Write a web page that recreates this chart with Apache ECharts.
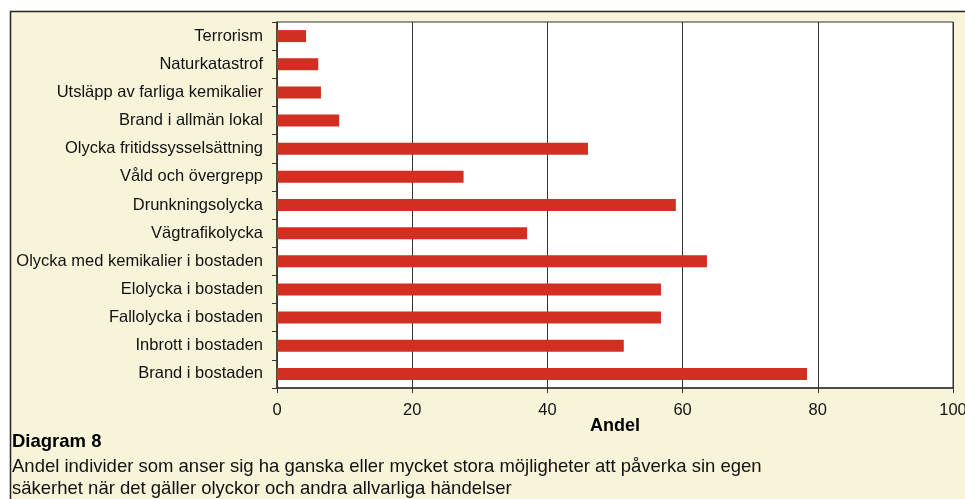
<!DOCTYPE html>
<html lang="sv">
<head>
<meta charset="UTF-8">
<title>Diagram 8</title>
<script src="https://cdn.jsdelivr.net/npm/echarts@6/dist/echarts.min.js"></script>
<style>
  html, body { margin: 0; padding: 0; background: #fff; }
  #main { width: 965px; height: 499px; }
</style>
</head>
<body>
<div id="main"></div>
<script type="text/javascript">
// kategorier uppifrån och ned
var categories = [
  'Terrorism',
  'Naturkatastrof',
  'Utsläpp av farliga kemikalier',
  'Brand i allmän lokal',
  'Olycka fritidssysselsättning',
  'Våld och övergrepp',
  'Drunkningsolycka',
  'Vägtrafikolycka',
  'Olycka med kemikalier i bostaden',
  'Elolycka i bostaden',
  'Fallolycka i bostaden',
  'Inbrott i bostaden',
  'Brand i bostaden'
];
var andel = [4.3, 6.1, 6.5, 9.2, 46.0, 27.6, 59.0, 37.0, 63.6, 56.8, 56.8, 51.3, 78.4];

var captionTitle = 'Diagram 8';
var captionLines = [
  'Andel individer som anser sig ha ganska eller mycket stora möjligheter att påverka sin egen',
  'säkerhet när det gäller olyckor och andra allvarliga händelser'
];

var font = '"Liberation Sans", Arial, sans-serif';
var myChart = echarts.init(document.getElementById('main'));

var option = {
  backgroundColor: '#ffffff',
  animation: false,
  textStyle: { fontFamily: font },
  graphic: [
    {
      type: 'rect', z: -10,
      shape: { x: 10.5, y: 11.5, width: 970, height: 500 },
      style: { fill: '#f8f4da', stroke: '#222', lineWidth: 1.5 }
    },
    {
      type: 'text', left: 12, top: 432,
      style: { text: captionTitle, font: 'bold 18.5px ' + font, fill: '#000' }
    },
    {
      type: 'text', left: 12, top: 456,
      style: { text: captionLines.join('\n'), font: '18.5px ' + font, lineHeight: 22, fill: '#111' }
    }
  ],
  grid: {
    left: 277, right: 12, top: 22, bottom: 111,
    containLabel: false, outerBoundsMode: 'none',
    show: true, backgroundColor: '#ffffff', borderColor: '#333', borderWidth: 1
  },
  xAxis: {
    type: 'value', min: 0, max: 100, interval: 20,
    name: 'Andel', nameLocation: 'middle', nameGap: 29, nameMoveOverlap: false,
    nameTextStyle: { fontWeight: 'bold', fontSize: 18, color: '#000', fontFamily: font },
    axisLine: { show: true, lineStyle: { color: '#333', width: 1.5 } },
    axisTick: { show: true, inside: false, length: 5, lineStyle: { color: '#333' } },
    axisLabel: { fontSize: 16.5, color: '#111', margin: 14, fontFamily: font },
    splitLine: { show: true, lineStyle: { color: '#333', width: 1 } }
  },
  yAxis: {
    type: 'category', data: categories, inverse: true,
    axisLine: { show: true, lineStyle: { color: '#333', width: 1.5 } },
    axisTick: { show: true, alignWithLabel: false, inside: false, length: 5, lineStyle: { color: '#333' } },
    axisLabel: { fontSize: 16.5, color: '#111', margin: 14, fontFamily: font },
    splitLine: { show: false }
  },
  series: [{
    name: 'Andel', type: 'bar', data: andel,
    barWidth: 12,
    itemStyle: { color: '#d22e22' }
  }]
};
myChart.setOption(option);
</script>
</body>
</html>
